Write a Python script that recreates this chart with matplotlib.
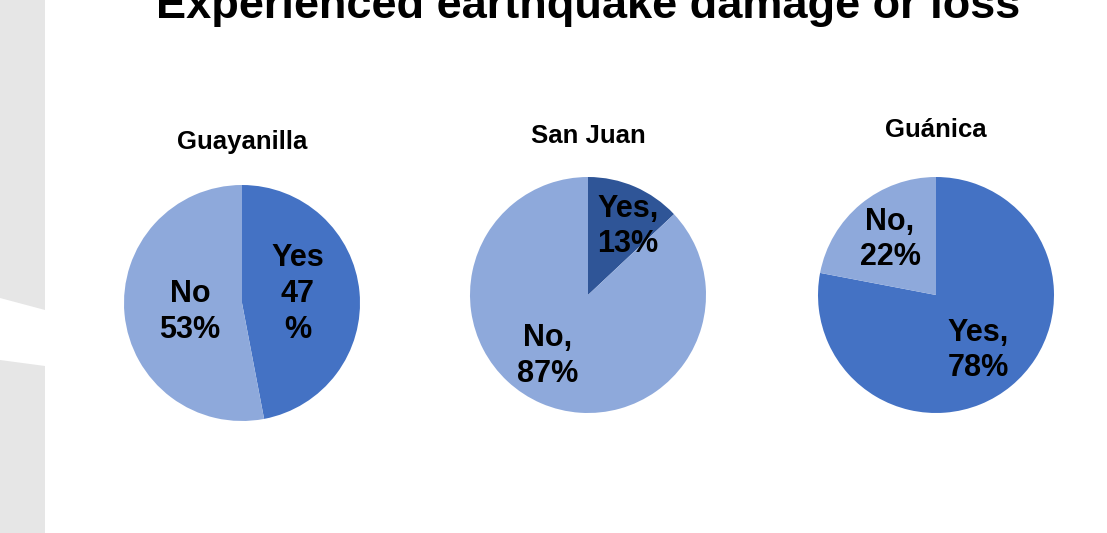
import numpy as np
import matplotlib.pyplot as plt
from matplotlib.patches import Polygon

plt.rcParams['font.family'] = ['Liberation Sans', 'DejaVu Sans']

# ---------- data ----------
towns = ['Guayanilla', 'San Juan', 'Guánica']
yesPct = [47, 13, 78]
noPct = [53, 87, 22]
yesLabels = ['Yes\n47\n%', 'Yes,\n13%', 'Yes,\n78%']
noLabels = ['No\n53%', 'No,\n87%', 'No,\n22%']
yesColors = ['#4472C4', '#2F5597', '#4472C4']
noColor = '#8EA9DB'

W, H = 1107, 533
fig = plt.figure(figsize=(W / 100, H / 100), dpi=100)
fig.patch.set_facecolor('white')

# slide background strip on the left
bg = fig.add_axes([0, 0, 1, 1], zorder=-1)
bg.set_xlim(0, W)
bg.set_ylim(H, 0)
bg.axis('off')
bg.add_patch(Polygon([[0, 0], [45, 0], [45, 310], [0, 298]], color='#E6E6E6', lw=0))
bg.add_patch(Polygon([[0, 360], [45, 366], [45, H], [0, H]], color='#E6E6E6', lw=0))

# title runs off the top edge, as on the slide
fig.text(588 / W, 1 - 18 / H, 'Experienced earthquake damage or loss',
         ha='center', va='baseline', fontsize=32.5, fontweight='bold')

# pie geometry in pixels (center x, center y, radius)
centers = [(242, 303), (588, 295), (936, 295)]
titleY = [142, 136, 130]
R = 118
labelPos = [((0.47, 0.075), (-0.44, -0.076)),
            ((0.34, 0.58), (-0.34, -0.52)),
            ((0.36, -0.47), (-0.39, 0.47))]

for i, town in enumerate(towns):
    cx, cy = centers[i]
    ax = fig.add_axes([(cx - R) / W, (H - cy - R) / H, 2 * R / W, 2 * R / H])
    ax.pie([yesPct[i], noPct[i]], colors=[yesColors[i], noColor],
           startangle=90, counterclock=False, radius=1,
           wedgeprops=dict(linewidth=0))
    ax.set_xlim(-1, 1)
    ax.set_ylim(-1, 1)
    ax.set_aspect('equal')
    ax.axis('off')
    (yx, yy), (nx, ny) = labelPos[i]
    ax.text(yx, yy, yesLabels[i], ha='center', va='center', fontsize=22,
            fontweight='bold', linespacing=1.25)
    ax.text(nx, ny, noLabels[i], ha='center', va='center', fontsize=22,
            fontweight='bold', linespacing=1.25)
    fig.text(cx / W, 1 - titleY[i] / H, town, ha='center', va='center',
             fontsize=18.5, fontweight='bold')

fig.savefig('out.png', dpi=100)
